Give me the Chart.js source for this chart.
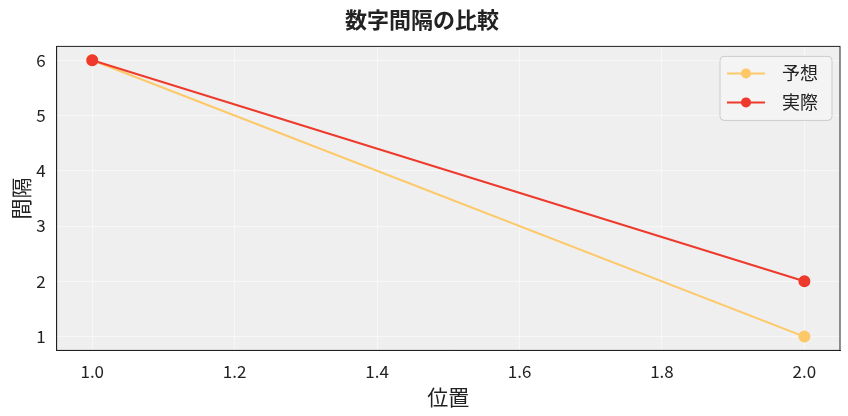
<!DOCTYPE html>
<html><head><meta charset="utf-8">
<script src="https://cdn.jsdelivr.net/npm/chart.js@4"></script>
<style>body{margin:0;background:#fff}#w{width:848px;height:416px}</style></head>
<body><div id="w"><canvas id="c"></canvas></div>
<script>
const positions=[1,2];
const predicted=[6,1];
const actual=[6,2];
const font="'Noto Sans CJK JP','Noto Sans',sans-serif";
const bg={id:'bg',beforeDraw(ch){const a=ch.chartArea,c=ch.ctx;c.save();c.fillStyle='#efefef';c.fillRect(a.left,a.top,a.width,a.height);c.restore();},
afterDraw(ch){const a=ch.chartArea,c=ch.ctx;c.save();c.strokeStyle='#222';c.lineWidth=1;c.strokeRect(a.left,a.top,a.width,a.height);
const x0=a.right-120,y0=a.top+10,w=112,h=64;c.fillStyle='rgba(245,245,245,0.85)';c.strokeStyle='#ccc';c.beginPath();c.roundRect(x0,y0,w,h,4);c.fill();c.stroke();
ch.data.datasets.forEach((d,i)=>{const y=y0+17+i*29;c.strokeStyle=d.borderColor;c.lineWidth=2;c.beginPath();c.moveTo(x0+7,y);c.lineTo(x0+45,y);c.stroke();
c.fillStyle=d.borderColor;c.beginPath();c.arc(x0+26,y,5,0,Math.PI*2);c.fill();c.fillStyle='#222';c.font='18px '+font;c.textBaseline='middle';c.fillText(d.label,x0+62,y);});
c.restore();}};
new Chart(document.getElementById('c'),{type:'line',
data:{datasets:[
{label:'予想',order:2,data:positions.map((x,i)=>({x,y:predicted[i]})),borderColor:'#fdc867',backgroundColor:'#fdc867',pointRadius:5,pointHoverRadius:5,borderWidth:2},
{label:'実際',order:1,data:positions.map((x,i)=>({x,y:actual[i]})),borderColor:'#ee3a2c',backgroundColor:'#ee3a2c',pointRadius:5,pointHoverRadius:5,borderWidth:2}]},
options:{responsive:true,maintainAspectRatio:false,animation:false,
layout:{padding:{left:4,right:8,bottom:2,top:0}},
plugins:{title:{display:true,text:'数字間隔の比較',color:'#222',font:{family:font,size:22,weight:'bold'},padding:{top:6,bottom:14}},
legend:{display:false}},
scales:{x:{type:'linear',min:0.95,max:2.05,afterBuildTicks(s){s.ticks=[1,1.2,1.4,1.6,1.8,2].map(v=>({value:v}));},
ticks:{callback:v=>v.toFixed(1),color:'#222',font:{family:font,size:17}},grid:{color:'rgba(255,255,255,0.5)'},border:{color:'#222'},
title:{display:true,text:'位置',color:'#222',font:{family:font,size:21},padding:{top:0}}},
y:{min:0.75,max:6.25,afterBuildTicks(s){s.ticks=[1,2,3,4,5,6].map(v=>({value:v}));},
ticks:{color:'#222',font:{family:font,size:17}},grid:{color:'rgba(255,255,255,0.5)'},border:{color:'#222'},
title:{display:true,text:'間隔',color:'#222',font:{family:font,size:21},padding:{bottom:0}}}}},
plugins:[bg]});
</script></body></html>
